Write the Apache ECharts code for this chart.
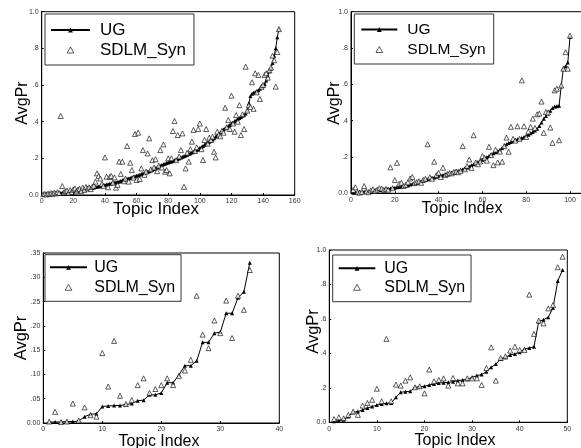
<!DOCTYPE html>
<html>
<head>
<meta charset="utf-8">
<script src="https://cdn.jsdelivr.net/npm/echarts@6/dist/echarts.min.js"></script>
<style>
html, body { margin: 0; padding: 0; background: #fff; }
#main { width: 581px; height: 448px; }
</style>
</head>
<body>
<div id="main"></div>
<script>
// panel 1 (150 topics)
var ug1 = [0.002,0.003,0.003,0.004,0.005,0.005,0.006,0.007,0.008,0.009,
  0.010,0.011,0.012,0.013,0.014,0.015,0.016,0.018,0.020,0.022,
  0.023,0.024,0.025,0.026,0.028,0.030,0.031,0.033,0.035,0.037,
  0.038,0.040,0.041,0.043,0.045,0.047,0.049,0.051,0.053,0.055,
  0.057,0.059,0.061,0.063,0.065,0.067,0.069,0.071,0.074,0.077,
  0.080,0.083,0.086,0.088,0.090,0.093,0.096,0.099,0.102,0.105,
  0.108,0.111,0.114,0.117,0.120,0.124,0.127,0.130,0.134,0.138,
  0.142,0.146,0.150,0.155,0.160,0.164,0.168,0.171,0.174,0.177,
  0.180,0.183,0.186,0.189,0.192,0.196,0.200,0.204,0.208,0.212,
  0.216,0.220,0.224,0.228,0.232,0.236,0.240,0.245,0.250,0.256,
  0.262,0.268,0.274,0.280,0.286,0.290,0.296,0.303,0.310,0.318,
  0.326,0.334,0.342,0.350,0.357,0.364,0.370,0.376,0.382,0.390,
  0.396,0.402,0.408,0.414,0.420,0.426,0.432,0.438,0.445,0.460,
  0.500,0.540,0.553,0.558,0.562,0.566,0.572,0.580,0.590,0.598,
  0.605,0.625,0.650,0.675,0.690,0.720,0.760,0.800,0.860,0.905];
var sd1 = [0.004,0.006,0.003,0.008,0.005,0.010,0.007,0.012,0.009,0.015,
  0.011,0.431,0.049,0.014,0.020,0.024,0.012,0.027,0.016,0.030,
  0.036,0.020,0.030,0.034,0.022,0.040,0.028,0.044,0.036,0.042,
  0.032,0.045,0.050,0.073,0.118,0.104,0.090,0.060,0.048,0.205,
  0.100,0.042,0.098,0.104,0.067,0.096,0.040,0.055,0.182,0.115,
  0.182,0.075,0.090,0.267,0.073,0.176,0.136,0.095,0.333,0.082,
  0.340,0.087,0.145,0.245,0.110,0.128,0.227,0.309,0.140,0.190,
  0.150,0.195,0.130,0.160,0.245,0.150,0.276,0.127,0.136,0.200,
  0.118,0.200,0.349,0.404,0.190,0.327,0.210,0.245,0.336,0.045,
  0.145,0.230,0.182,0.250,0.291,0.355,0.240,0.260,0.360,0.390,
  0.250,0.191,0.300,0.360,0.280,0.313,0.300,0.318,0.236,0.205,
  0.345,0.330,0.320,0.350,0.340,0.476,0.370,0.409,0.360,0.542,
  0.390,0.345,0.436,0.400,0.490,0.327,0.440,0.360,0.700,0.460,
  0.490,0.480,0.615,0.470,0.664,0.560,0.655,0.524,0.590,0.600,
  0.655,0.664,0.640,0.680,0.695,0.760,0.735,0.591,0.780,0.905];

// panel 2 (100 topics)
var ug2 = [0.003,0.004,0.005,0.006,0.007,0.008,0.009,0.010,0.012,0.014,
  0.015,0.017,0.018,0.020,0.021,0.023,0.025,0.027,0.029,0.031,
  0.033,0.035,0.037,0.040,0.042,0.045,0.048,0.051,0.054,0.058,
  0.062,0.066,0.070,0.074,0.077,0.080,0.084,0.087,0.091,0.095,
  0.098,0.101,0.104,0.107,0.110,0.113,0.116,0.119,0.123,0.128,
  0.132,0.137,0.142,0.148,0.154,0.160,0.166,0.172,0.178,0.185,
  0.192,0.199,0.206,0.213,0.220,0.226,0.232,0.240,0.250,0.262,
  0.270,0.277,0.283,0.288,0.293,0.297,0.301,0.305,0.310,0.316,
  0.323,0.330,0.338,0.346,0.355,0.370,0.390,0.410,0.425,0.440,
  0.455,0.470,0.478,0.480,0.482,0.590,0.690,0.700,0.720,0.860];
var sd2 = [0.018,0.033,0.006,0.004,0.008,0.040,0.010,0.006,0.016,0.022,
  0.013,0.020,0.028,0.026,0.018,0.024,0.020,0.143,0.028,0.073,
  0.168,0.052,0.058,0.040,0.046,0.060,0.082,0.090,0.056,0.062,
  0.066,0.058,0.074,0.080,0.270,0.088,0.080,0.174,0.100,0.113,
  0.090,0.141,0.100,0.106,0.112,0.110,0.118,0.120,0.116,0.124,
  0.260,0.132,0.150,0.186,0.140,0.320,0.170,0.160,0.175,0.205,
  0.195,0.180,0.256,0.210,0.155,0.240,0.170,0.230,0.174,0.260,
  0.307,0.229,0.366,0.300,0.290,0.369,0.300,0.622,0.369,0.310,
  0.340,0.366,0.411,0.360,0.435,0.439,0.505,0.333,0.448,0.445,
  0.362,0.278,0.567,0.576,0.292,0.594,0.686,0.777,0.686,0.868];

// panel 3 (35 topics)
var ug3 = [0.002,0.002,0.002,0.003,0.003,0.004,0.013,0.018,0.019,0.034,
  0.035,0.036,0.036,0.038,0.040,0.046,0.047,0.058,0.058,0.062,
  0.083,0.083,0.099,0.118,0.118,0.128,0.166,0.166,0.185,0.187,
  0.226,0.226,0.258,0.270,0.330];
var sd3 = [0.003,0.023,0.002,0.003,0.040,0.005,0.032,0.016,0.013,0.144,
  0.075,0.169,0.056,0.039,0.047,0.078,0.092,0.062,0.070,0.078,
  0.092,0.078,0.097,0.108,0.130,0.262,0.182,0.154,0.211,0.185,
  0.252,0.175,0.262,0.233,0.315];

// panel 4 (49 topics)
var ug4 = [0.006,0.010,0.015,0.033,0.058,0.062,0.072,0.083,0.091,0.100,
  0.106,0.110,0.112,0.145,0.174,0.178,0.180,0.203,0.207,0.209,
  0.217,0.222,0.228,0.230,0.232,0.236,0.242,0.246,0.250,0.261,
  0.271,0.277,0.294,0.319,0.338,0.368,0.377,0.391,0.397,0.406,
  0.426,0.431,0.439,0.585,0.595,0.610,0.665,0.820,0.884];
var sd4 = [0.019,0.029,0.023,0.043,0.062,0.043,0.097,0.112,0.130,0.195,
  0.122,0.484,0.122,0.219,0.213,0.242,0.261,0.203,0.209,0.168,
  0.306,0.238,0.246,0.255,0.213,0.257,0.226,0.226,0.255,0.255,
  0.255,0.217,0.315,0.435,0.242,0.373,0.383,0.416,0.439,0.420,
  0.420,0.741,0.513,0.590,0.574,0.661,0.681,0.900,0.961];

var yLabels1 = ['0.0', '.2', '.4', '.6', '.8', '1.0'];
var yLabels3 = ['0.00', '.05', '.10', '.15', '.20', '.25', '.30', '.35'];

var FONT = 'Arial, "Liberation Sans", sans-serif';

// grid boxes in px: [left, top, width, height]; panel 2 runs off the right edge
var grids = [
  [41.7, 11.7, 253, 183.3],
  [351, 11.7, 262.8, 181.6],
  [43.3, 253, 236, 170],
  [329.3, 250, 238, 172.3]
];
var xMax = [160, 120, 40, 50];
var xStep = [20, 20, 10, 10];
var yMax = [1, 1, 0.35, 1];
var yStep = [0.2, 0.2, 0.05, 0.2];
var yLabs = [yLabels1, yLabels1, yLabels3, yLabels1];

function pairs(arr) {
  return arr.map(function (v, i) { return [i + 1, v]; });
}

var myChart = echarts.init(document.getElementById('main'));

var option = {
  animation: false,
  backgroundColor: '#fff',
  grid: [], xAxis: [], yAxis: [], series: [], legend: [], graphic: []
};

grids.forEach(function (g, i) {
  option.grid.push({
    left: g[0], top: g[1], width: g[2], height: g[3],
    outerBoundsMode: 'none', containLabel: false,
    show: true, borderColor: '#000', borderWidth: 1
  });
  option.xAxis.push({
    type: 'value', gridIndex: i, min: 0, max: xMax[i], interval: xStep[i],
    axisLine: { lineStyle: { color: '#000', width: 1 } },
    axisTick: { inside: true, length: 2, lineStyle: { color: '#000' } },
    axisLabel: { fontSize: 7, color: '#333', margin: 3, fontFamily: FONT },
    splitLine: { show: false }
  });
  option.yAxis.push({
    type: 'value', gridIndex: i, min: 0, max: yMax[i], interval: yStep[i],
    axisLine: { lineStyle: { color: '#000', width: 1 } },
    axisTick: { inside: true, length: 2, lineStyle: { color: '#000' } },
    axisLabel: {
      fontSize: 7, color: '#333', margin: 3, fontFamily: FONT,
      formatter: (function (labs) {
        return function (v, idx) { return labs[idx]; };
      })(yLabs[i])
    },
    splitLine: { show: false }
  });
});

var ugs = [ug1, ug2, ug3, ug4];
var sds = [sd1, sd2, sd3, sd4];
for (var k = 0; k < 4; k++) {
  option.series.push({
    name: 'UG', type: 'line', xAxisIndex: k, yAxisIndex: k,
    data: pairs(ugs[k]), symbol: 'triangle', symbolSize: 4,
    lineStyle: { color: '#000', width: 1 },
    itemStyle: { color: '#000' }, z: 2
  });
  option.series.push({
    name: 'SDLM_Syn', type: 'scatter', xAxisIndex: k, yAxisIndex: k,
    data: pairs(sds[k]), symbol: 'triangle', symbolSize: 5,
    itemStyle: { color: '#fff', borderColor: '#000', borderWidth: 0.8 }, z: 3
  });
}

// legend boxes: left, top, padding, itemWidth, itemGap, fontSize, text pad
var legends = [
  [45, 14, [7.5, 8, 6.5, 5], 39, 3, 17, 5],
  [354.3, 14, [7.5, 8, 6.5, 6], 36, 4, 15.5, 5],
  [45, 254.7, [4.6, 5.8, 6, 4], 37, 4, 16, 2.3],
  [332.7, 255, [5.3, 5.8, 6.4, 5], 36.6, 3, 16, 4]
];
legends.forEach(function (l) {
  option.legend.push({
    left: l[0], top: l[1], orient: 'vertical', padding: l[2],
    itemWidth: l[3], itemHeight: 6, itemGap: l[4],
    borderColor: '#333', borderWidth: 1, backgroundColor: '#fff',
    selectedMode: false,
    textStyle: { fontSize: l[5], color: '#000', fontFamily: FONT, padding: [0, 0, 0, l[6]] },
    data: [
      { name: 'UG' },
      { name: 'SDLM_Syn', icon: 'path://M5,0L10,9L0,9Z', itemStyle: { borderWidth: 0.8 } }
    ]
  });
});

// axis titles
var xTitles = [[156, 209.5, 17], [462, 208.5, 16], [159, 442, 16], [455, 440.5, 16]];
var yTitles = [[23, 103, 16], [334.5, 103, 16], [21.5, 338, 16.5], [313, 331.5, 16.5]];
xTitles.forEach(function (t) {
  option.graphic.push({
    type: 'text', x: t[0], y: t[1], z: 10,
    style: { text: 'Topic Index', fontSize: t[2], fontFamily: FONT, fill: '#000', align: 'center', verticalAlign: 'middle' }
  });
});
yTitles.forEach(function (t) {
  option.graphic.push({
    type: 'text', x: t[0], y: t[1], rotation: Math.PI / 2, z: 10,
    style: { text: 'AvgPr', fontSize: t[2], fontFamily: FONT, fill: '#000', align: 'center', verticalAlign: 'middle' }
  });
});

myChart.setOption(option);
</script>
</body>
</html>
